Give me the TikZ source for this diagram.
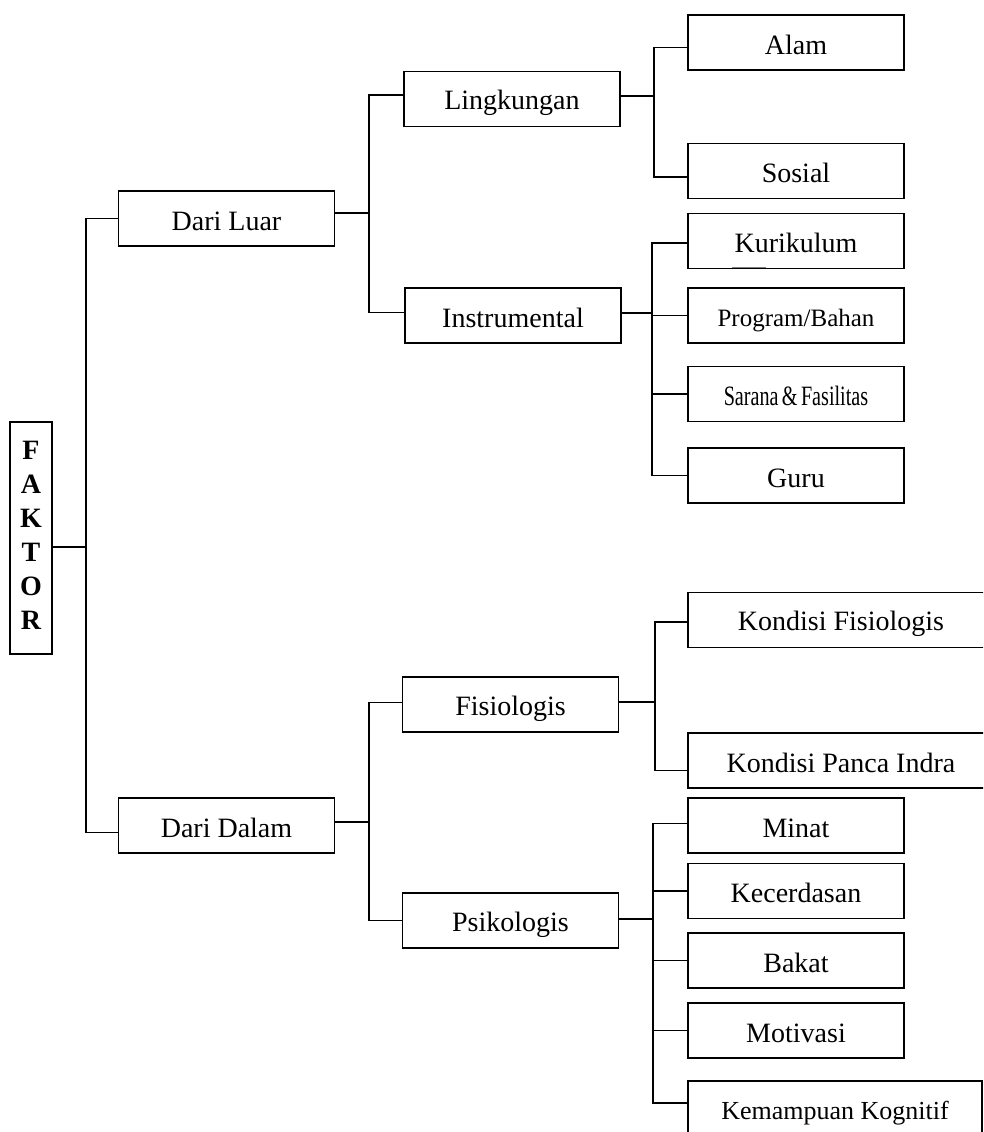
\documentclass[tikz,border=0pt]{standalone}
\usepackage{fontspec}
\setmainfont{Liberation Serif}
\usetikzlibrary{calc}
\newcommand{\tegak}{\rule[-4pt]{0pt}{31.5pt}}
\tikzset{
    every node/.append style={align=center},
    kotak/.style={draw,line width=1.6pt,minimum width=216pt,minimum height=55pt,inner sep=0pt,font=\fontsize{28}{34}\selectfont\tegak},
    lebar/.style={kotak,minimum width=#1},
    garis/.style={line width=1.6pt},
    huruf/.style={draw,line width=1.6pt,minimum width=42pt,minimum height=232pt,inner sep=0pt,font=\fontsize{28}{34}\selectfont\bfseries},
}
\begin{document}
\begin{tikzpicture}[x=1pt,y=-1pt]
                \useasboundingbox (0,0) rectangle (983,1132);
                \clip (0,0) rectangle (983,1132);

                \node[huruf] (faktor) at (31,538) {\strut F\\\strut A\\\strut K\\\strut T\\\strut O\\\strut R};

                \node[kotak] (luar)  at (226.5,218.5) {Dari Luar};
                \node[kotak] (dalam) at (226.5,825.5) {Dari Dalam};

                \node[kotak] (lingk) at (512,99)    {Lingkungan};
                \node[kotak] (instr) at (513,315.5) {Instrumental};
                \node[kotak] (fisio) at (510.5,704.5) {Fisiologis};
                \node[kotak] (psiko) at (510.5,920.5) {Psikologis};

                \node[kotak] (alam)   at (796,42.5)  {Alam};
                \node[kotak] (sosial) at (796,171)   {Sosial};
                \node[kotak] (kurik)  at (796,241)   {Kurikulum};
                \node[kotak,font=\fontsize{25}{30}\selectfont\tegak] (prog) at (796,315.5) {Program/Bahan};
                \node[kotak] (sarana) at (796,394)   {\scalebox{0.72}[1]{Sarana\,\&\,Fasilitas}};
                \node[kotak] (guru)   at (796,475.5) {Guru};

                \node[lebar=306pt] (kfisio) at (841,620)   {Kondisi Fisiologis};
                \node[lebar=306pt] (kpanca) at (841,760.5) {Kondisi Panca Indra};

                \node[kotak] (minat) at (796,825.5)  {Minat};
                \node[kotak] (kecer) at (796,891)    {Kecerdasan};
                \node[kotak] (bakat) at (796,960.5)  {Bakat};
                \node[kotak] (motiv) at (796,1030.5) {Motivasi};
                \node[lebar=294pt,minimum height=56pt,font=\fontsize{26}{31}\selectfont\tegak] (kemamp) at (835,1109) {Kemampuan Kognitif};

                % cabang utama
                \coordinate (j0) at (86,547);
                \draw[garis] (faktor.east |- j0) -- (j0);
                \draw[garis] (luar.west) -| (j0) |- ([yshift=-7pt]dalam.west);

                % dari luar
                \coordinate (j1) at (369,213);
                \draw[garis] (luar.east |- j1) -- (j1);
                \draw[garis] ([yshift=4pt]lingk.west) -| (j1) |- ([yshift=3pt]instr.west);

                \coordinate (j2) at (654,96);
                \draw[garis] (lingk.east |- j2) -- (j2);
                \draw[garis] ([yshift=-5pt]alam.west) -| (j2) |- ([yshift=-6pt]sosial.west);

                \coordinate (j3) at (652,313);
                \draw[garis] (instr.east |- j3) -- (j3);
                \draw[garis] ([yshift=-2pt]kurik.west) -| (j3) |- (guru.west);
                \foreach \n in {prog,sarana}
                    \draw[garis] (\n.west) -- (\n.west -| j3);
                \draw[gray,line width=0.8pt] (732,267) -- (766,267);

                % dari dalam
                \coordinate (j4) at (369,822);
                \draw[garis] (dalam.east |- j4) -- (j4);
                \draw[garis] ([yshift=2pt]fisio.west) -| (j4) |- (psiko.west);

                \coordinate (j5) at (655,702);
                \draw[garis] (fisio.east |- j5) -- (j5);
                \draw[garis] ([yshift=-2pt]kfisio.west) -| (j5) |- ([yshift=-10pt]kpanca.west);

                \coordinate (j6) at (653,919);
                \draw[garis] (psiko.east |- j6) -- (j6);
                \draw[garis] ([yshift=2pt]minat.west) -| (j6) |- ([yshift=6pt]kemamp.west);
                \foreach \n in {kecer,bakat,motiv}
                    \draw[garis] (\n.west) -- (\n.west -| j6);
        \end{tikzpicture}
\end{document}
